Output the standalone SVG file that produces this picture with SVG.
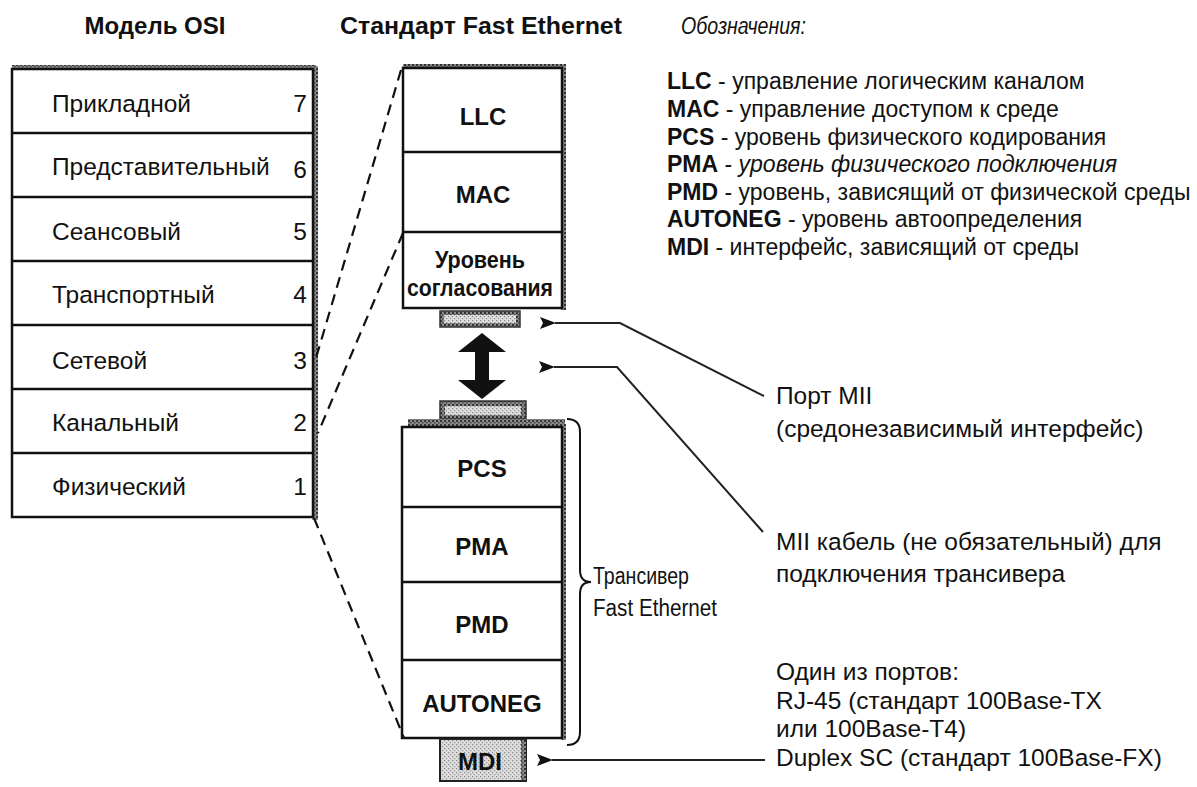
<svg xmlns="http://www.w3.org/2000/svg" width="1197" height="787" viewBox="0 0 1197 787">
<defs>
<style>
text{font-family:"Liberation Sans",Arial,sans-serif;fill:#111}
.h{font-size:24px;font-weight:bold}
.it{font-style:italic}
.osi{font-size:24.5px}
.lb{font-size:24px;font-weight:bold;text-anchor:middle}
.lg{font-size:23px}
.an{font-size:24.5px}
.box{fill:#fff;stroke:#111;stroke-width:2.5}
.div{stroke:#111;stroke-width:2.5}
.dash{fill:none;stroke:#111;stroke-width:2.2;stroke-dasharray:11 7}
.conn{fill:none;stroke:#222;stroke-width:2}
.shadow{fill:url(#spk)}
</style>
<pattern id="spk" width="4" height="4" patternUnits="userSpaceOnUse">
<rect width="4" height="4" fill="#8a8a8a"/>
<rect width="2" height="2" fill="#333"/>
<rect x="2" y="2" width="1.5" height="1.5" fill="#444"/>
</pattern>
<pattern id="lt" width="4" height="4" patternUnits="userSpaceOnUse">
<rect width="4" height="4" fill="#dcdcdc"/>
<rect width="1.2" height="1.2" fill="#888"/>
<rect x="2" y="2" width="1.2" height="1.2" fill="#999"/>
</pattern>
<marker id="ah" viewBox="0 0 16 12" refX="1" refY="6" markerWidth="16" markerHeight="12" markerUnits="userSpaceOnUse" orient="auto-start-reverse">
<path d="M0,6 L16,0 L13,6 L16,12 Z" fill="#111"/>
</marker>
</defs>

<g id="headings">
<text class="h" x="155" y="34" text-anchor="middle">Модель OSI</text>
<text class="h" x="340" y="34" textLength="282" lengthAdjust="spacingAndGlyphs">Стандарт Fast Ethernet</text>
<text class="it" x="681" y="34" font-size="23" textLength="125" lengthAdjust="spacingAndGlyphs">Обозначения:</text>
</g>

<g id="osi-model">
<rect class="shadow" x="312" y="66" width="6" height="454"/>
<rect class="shadow" x="12" y="65" width="304" height="4"/>
<rect class="box" x="12" y="69" width="301" height="448"/>
<line class="div" x1="12" y1="133" x2="313" y2="133"/>
<line class="div" x1="12" y1="197" x2="313" y2="197"/>
<line class="div" x1="12" y1="261" x2="313" y2="261"/>
<line class="div" x1="12" y1="325" x2="313" y2="325"/>
<line class="div" x1="12" y1="389" x2="313" y2="389"/>
<line class="div" x1="12" y1="453" x2="313" y2="453"/>
<g id="osi-7"><text class="osi" x="52" y="112">Прикладной</text><text class="osi" x="307" y="112" text-anchor="end">7</text></g>
<g id="osi-6"><text class="osi" x="52" y="175">Представительный</text><text class="osi" x="307" y="178" text-anchor="end">6</text></g>
<g id="osi-5"><text class="osi" x="52" y="240">Сеансовый</text><text class="osi" x="307" y="240" text-anchor="end">5</text></g>
<g id="osi-4"><text class="osi" x="52" y="303">Транспортный</text><text class="osi" x="307" y="303" text-anchor="end">4</text></g>
<g id="osi-3"><text class="osi" x="52" y="369">Сетевой</text><text class="osi" x="307" y="369" text-anchor="end">3</text></g>
<g id="osi-2"><text class="osi" x="52" y="431">Канальный</text><text class="osi" x="307" y="431" text-anchor="end">2</text></g>
<g id="osi-1"><text class="osi" x="52" y="495">Физический</text><text class="osi" x="307" y="495" text-anchor="end">1</text></g>
</g>

<g id="mac-stack">
<rect class="shadow" x="403" y="64" width="163" height="5"/>
<rect class="shadow" x="561" y="64" width="5" height="246"/>
<rect class="box" x="403" y="68" width="159" height="240"/>
<line class="div" x1="403" y1="152" x2="562" y2="152"/>
<line class="div" x1="403" y1="232" x2="562" y2="232"/>
<g id="llc"><text class="lb" x="483" y="125">LLC</text></g>
<g id="mac"><text class="lb" x="483" y="203">MAC</text></g>
<g id="reconciliation"><text class="lb" x="480" y="268" font-size="21" textLength="90" lengthAdjust="spacingAndGlyphs">Уровень</text><text class="lb" x="480" y="296" font-size="21" textLength="146" lengthAdjust="spacingAndGlyphs">согласования</text></g>
</g>

<g id="mii-port-upper">
<rect x="440" y="311" width="80" height="16" fill="url(#spk)" stroke="#333" stroke-width="1.5"/>
<rect x="444" y="315" width="72" height="8" fill="url(#lt)"/>
</g>

<g id="mii-double-arrow">
<polygon points="482,333 506,352 489,352 489,380 506,380 482,399 458,380 475,380 475,352 458,352" fill="#111"/>
</g>

<g id="mii-port-lower">
<rect x="440" y="401" width="86" height="18" fill="url(#spk)" stroke="#333" stroke-width="1.5"/>
<rect x="445" y="406" width="76" height="9" fill="url(#lt)"/>
<rect class="shadow" x="408" y="419" width="157" height="8"/>
</g>

<g id="phy-stack">
<rect class="shadow" x="561" y="424" width="5" height="316"/>
<rect class="box" x="402" y="427" width="160" height="311"/>
<line class="div" x1="402" y1="507" x2="562" y2="507"/>
<line class="div" x1="402" y1="582" x2="562" y2="582"/>
<line class="div" x1="402" y1="660" x2="562" y2="660"/>
<g id="pcs"><text class="lb" x="482" y="477">PCS</text></g>
<g id="pma"><text class="lb" x="482" y="555">PMA</text></g>
<g id="pmd"><text class="lb" x="482" y="633">PMD</text></g>
<g id="autoneg"><text class="lb" x="482" y="712">AUTONEG</text></g>
</g>

<g id="mdi">
<rect x="440" y="739" width="86" height="42" fill="url(#lt)" stroke="#222" stroke-width="2"/>
<rect class="shadow" x="521" y="740" width="5" height="40"/>
<text class="lb" x="480" y="770">MDI</text>
</g>

<g id="transceiver">
<path d="M567,419 Q580,419 580,432 L580,570 Q580,582 591,582 Q580,582 580,594 L580,732 Q580,745 567,745" fill="none" stroke="#111" stroke-width="2"/>
<text x="593" y="584" font-size="23" textLength="96" lengthAdjust="spacingAndGlyphs">Трансивер</text>
<text x="593" y="616" font-size="23" textLength="124" lengthAdjust="spacingAndGlyphs">Fast Ethernet</text>
</g>

<g id="legend">
<text class="lg" x="667" y="89"><tspan font-weight="bold">LLC</tspan> - управление логическим каналом</text>
<text class="lg" x="667" y="117"><tspan font-weight="bold">MAC</tspan> - управление доступом к среде</text>
<text class="lg" x="667" y="145"><tspan font-weight="bold">PCS</tspan> - уровень физического кодирования</text>
<text class="lg" x="667" y="172"><tspan font-weight="bold">PMA</tspan> - <tspan font-style="italic">уровень физического подключения</tspan></text>
<text class="lg" x="667" y="200"><tspan font-weight="bold">PMD</tspan> - уровень, зависящий от физической среды</text>
<text class="lg" x="667" y="227"><tspan font-weight="bold">AUTONEG</tspan> - уровень автоопределения</text>
<text class="lg" x="667" y="255"><tspan font-weight="bold">MDI</tspan> - интерфейс, зависящий от среды</text>
</g>

<g id="notes">
<g id="note-mii-port"><text class="an" x="776" y="404">Порт MII</text><text class="an" x="776" y="437">(средонезависимый интерфейс)</text></g>
<g id="note-mii-cable"><text class="an" x="776" y="550">MII кабель (не обязательный) для</text><text class="an" x="776" y="582">подключения трансивера</text></g>
<g id="note-ports"><text class="an" x="776" y="680">Один из портов:</text><text class="an" x="776" y="709">RJ-45 (стандарт 100Base-TX</text><text class="an" x="776" y="737">или 100Base-T4)</text><text class="an" x="776" y="766">Duplex SC (стандарт 100Base-FX)</text></g>
</g>

<g id="connectors">
<path class="dash" d="M401,70 L316,358"/>
<path class="dash" d="M403,233 L318,433"/>
<path class="dash" d="M314,518 L404,738"/>
<path class="conn" d="M764,396 L620,323 L555,323" marker-end="url(#ah)"/>
<path class="conn" d="M763,532 L617,367 L554,367" marker-end="url(#ah)"/>
<path class="conn" d="M765,760 L552,760" marker-end="url(#ah)"/>
</g>
</svg>
